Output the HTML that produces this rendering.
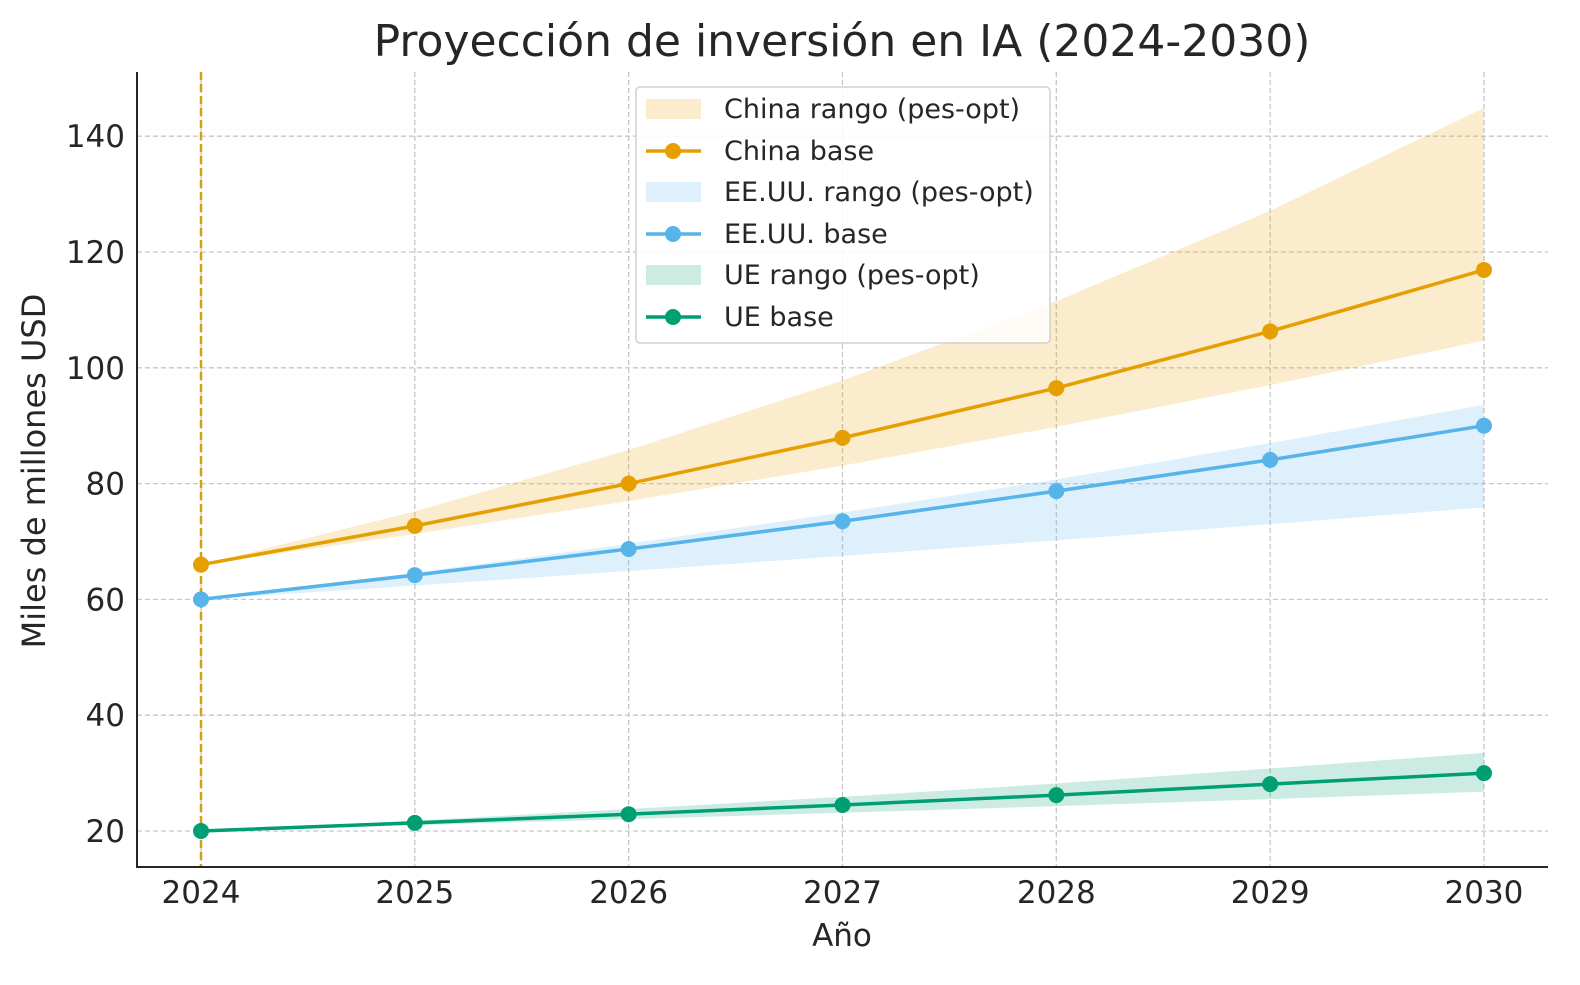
<!DOCTYPE html>
<html><head><meta charset="utf-8"><style>
body{margin:0;background:#fff;font-family:"Liberation Sans","DejaVu Sans",sans-serif}
svg text{font-family:"DejaVu Sans","Liberation Sans",sans-serif;fill:#262626}
</style></head><body>
<svg id="c" width="1580" height="980"></svg>
<script>
const years=[2024,2025,2026,2027,2028,2029,2030];
const chinaBase=[66,72.7,80,87.9,96.5,106.3,116.9];
const chinaPes=[66,71.3,77,83.1,89.8,97,104.7];
const chinaOpt=[66,75.2,85.8,97.8,111.5,127.1,144.9];
const usBase=[60,64.2,68.7,73.5,78.7,84.1,90];
const usPes=[60,62.4,64.9,67.5,70.2,73.0,75.9];
const usOpt=[60,64.6,69.6,75.0,80.7,87.0,93.6];
const euBase=[20,21.4,22.9,24.5,26.2,28.1,30];
const euPes=[20,21,22.05,23.15,24.3,25.5,26.8];
const euOpt=[20,21.8,23.8,25.9,28.2,30.8,33.5];
const yTicks=[20,40,60,80,100,120,140];

const svg=document.getElementById('c');
const NS='http://www.w3.org/2000/svg';
const X=v=>201+(v-2024)*213.83;
const Y=v=>831-(v-20)*5.79;
function mk(t,a,p){const e=document.createElementNS(NS,t);for(const k in a)e.setAttribute(k,a[k]);(p||svg).appendChild(e);return e;}
yTicks.forEach(v=>{const l=mk('line',{x1:137,x2:1548,y1:Y(v),y2:Y(v),stroke:'#c8c8c8','stroke-dasharray':'5,3','stroke-width':1.3});


const t=mk('text',{x:125,y:Y(v)+11,'text-anchor':'end','font-size':31});t.textContent=v;

});
years.forEach(v=>{const l=mk('line',{x1:X(v),x2:X(v),y1:72,y2:867,stroke:'#c8c8c8','stroke-dasharray':'5,3','stroke-width':1.3});


const t=mk('text',{x:X(v),y:903,'text-anchor':'middle','font-size':31});t.textContent=v;

});
function band(lo,hi,color,name){const pts=years.map((y,i)=>X(y)+','+Y(hi[i])).concat(years.map((y,i)=>X(y)+','+Y(lo[i])).reverse());
const p=mk('polygon',{points:pts.join(' '),fill:color,'fill-opacity':0.2});

}
function line(vals,color,name){const p=mk('polyline',{points:years.map((y,i)=>X(y)+','+Y(vals[i])).join(' '),fill:'none',stroke:color,'stroke-width':3.5});


vals.forEach((v,i)=>{const c=mk('circle',{cx:X(years[i]),cy:Y(v),r:8,fill:color});

});}
band(chinaPes,chinaOpt,'#E69F00','china-range');
band(usPes,usOpt,'#56B4E9','us-range');
band(euPes,euOpt,'#009E73','eu-range');
const vl=mk('line',{x1:X(2024),x2:X(2024),y1:72,y2:867,stroke:'#d4a017','stroke-dasharray':'8,4','stroke-width':2.5});


line(chinaBase,'#E69F00','china-base-line');
line(usBase,'#56B4E9','us-base-line');
line(euBase,'#009E73','eu-base-line');
</script>
<svg width="1580" height="980" style="position:absolute;left:0;top:0">
<line x1="137" y1="72" x2="137" y2="868" stroke="#262626" stroke-width="2"/>
<line x1="136" y1="867" x2="1548" y2="867" stroke="#262626" stroke-width="2"/>
<text x="842" y="56" text-anchor="middle" font-size="44">Proyección de inversión en IA (2024-2030)</text>
<text x="842" y="946" text-anchor="middle" font-size="31">Año</text>
<text transform="translate(45,471) rotate(-90)" text-anchor="middle" font-size="32">Miles de millones USD</text>
<g>
<rect x="636" y="87" width="414" height="256" rx="4" fill="#fff" fill-opacity="0.85" stroke="#d0d0d0" stroke-width="1.5"/>
<rect x="646" y="99" width="55" height="20" fill="#E69F00" fill-opacity="0.2"/>
<text x="724" y="118" font-size="27">China rango (pes-opt)</text>
<line x1="646" y1="151" x2="701" y2="151" stroke="#E69F00" stroke-width="3.5"/><circle cx="673" cy="151" r="8" fill="#E69F00"/>
<text x="724" y="160" font-size="27">China base</text>
<rect x="646" y="182" width="55" height="20" fill="#56B4E9" fill-opacity="0.2"/>
<text x="724" y="201" font-size="27">EE.UU. rango (pes-opt)</text>
<line x1="646" y1="234" x2="701" y2="234" stroke="#56B4E9" stroke-width="3.5"/><circle cx="673" cy="234" r="8" fill="#56B4E9"/>
<text x="724" y="243" font-size="27">EE.UU. base</text>
<rect x="646" y="265" width="55" height="20" fill="#009E73" fill-opacity="0.2"/>
<text x="724" y="284" font-size="27">UE rango (pes-opt)</text>
<line x1="646" y1="317" x2="701" y2="317" stroke="#009E73" stroke-width="3.5"/><circle cx="673" cy="317" r="8" fill="#009E73"/>
<text x="724" y="326" font-size="27">UE base</text>
</g>
</svg>
</body></html>
